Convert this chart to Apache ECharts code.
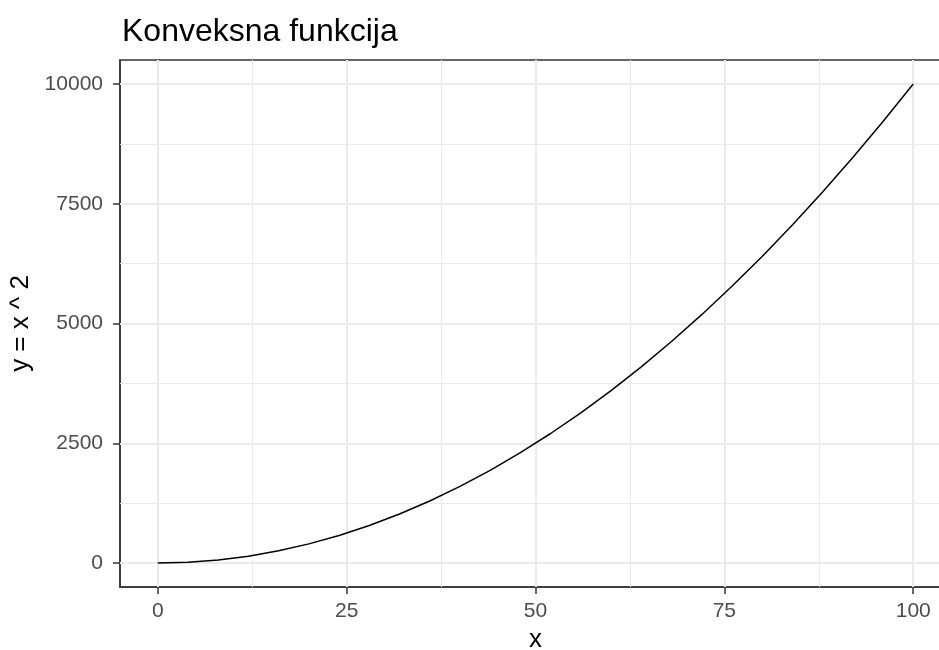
<!DOCTYPE html>
<html>
<head>
<meta charset="utf-8">
<script src="https://cdn.jsdelivr.net/npm/echarts@6/dist/echarts.min.js"></script>
<style>html,body{margin:0;padding:0;background:#fff}#c{width:939px;height:650px}</style>
</head>
<body>
<div id="c"></div>
<script>
// Data
const xValues = [0,4,8,12,16,20,24,28,32,36,40,44,48,52,56,60,64,68,72,76,80,84,88,92,96,100];
const yValues = [0,16,64,144,256,400,576,784,1024,1296,1600,1936,2304,2704,3136,3600,4096,4624,5184,5776,6400,7056,7744,8464,9216,10000];
const xTicks = [0,25,50,75,100];
const xMinor = [12.5,37.5,62.5,87.5];
const yTicks = [0,2500,5000,7500,10000];
const yMinor = [1250,3750,6250,8750];
const titleText = 'Konveksna funkcija';
const xName = 'x';
const yName = 'y = x ^ 2';

const FONT = 'Liberation Sans, Arial, sans-serif';
const gridMajor = '#EBEBEB';

const lineData = xValues.map((x,i)=>[x, yValues[i]]);
const ml = [];
xTicks.forEach(v=>ml.push({xAxis:v, lineStyle:{color:gridMajor,width:2,type:'solid'}}));
xMinor.forEach(v=>ml.push({xAxis:v, lineStyle:{color:gridMajor,width:1,type:'solid'}}));
yTicks.forEach(v=>ml.push({yAxis:v, lineStyle:{color:gridMajor,width:2,type:'solid'}}));
yMinor.forEach(v=>ml.push({yAxis:v, lineStyle:{color:gridMajor,width:1,type:'solid'}}));

const chart = echarts.init(document.getElementById('c'), null, {renderer:'canvas'});
chart.setOption({
  animation:false,
  backgroundColor:'#fff',
  title:{text:titleText, left:117, top:11, textStyle:{fontFamily:FONT, fontSize:32, fontWeight:'normal', color:'#000'}},
  grid:{left:120, top:60, width:831, height:527, show:true, borderColor:'#333333', borderWidth:1.5, backgroundColor:'#fff', outerBoundsMode:'none', containLabel:false},
  xAxis:{type:'value', min:-5, max:105,
    name:xName, nameLocation:'middle', nameGap:40,
    nameTextStyle:{fontFamily:FONT, fontSize:26, color:'#000'},
    axisLine:{show:true, onZero:false, lineStyle:{color:'#333333', width:1.5}},
    axisTick:{show:true, inside:false, length:7, lineStyle:{color:'#333333', width:1.5}, customValues:xTicks},
    axisLabel:{customValues:xTicks, margin:14, fontFamily:FONT, fontSize:21, color:'#4D4D4D', formatter:v=>String(v)},
    splitLine:{show:false}, minorSplitLine:{show:false}},
  yAxis:{type:'value', min:-500, max:10500,
    name:yName, nameLocation:'middle', nameGap:77, nameRotate:90,
    nameTextStyle:{fontFamily:FONT, fontSize:26, color:'#000'},
    axisLine:{show:true, onZero:false, lineStyle:{color:'#333333', width:1.5}},
    axisTick:{show:true, inside:false, length:7, lineStyle:{color:'#333333', width:1.5}, customValues:yTicks},
    axisLabel:{customValues:yTicks, margin:17, fontFamily:FONT, fontSize:21, color:'#4D4D4D', formatter:v=>String(v)},
    splitLine:{show:false}, minorSplitLine:{show:false}},
  series:[
    {type:'line', data:[], z:1, silent:true,
     markLine:{z:1, silent:true, symbol:['none','none'], label:{show:false}, animation:false, data:ml}},
    {type:'line', data:lineData, z:5, symbol:'none', lineStyle:{color:'#000', width:1.5}, silent:true}
  ]
});
</script>
</body>
</html>
